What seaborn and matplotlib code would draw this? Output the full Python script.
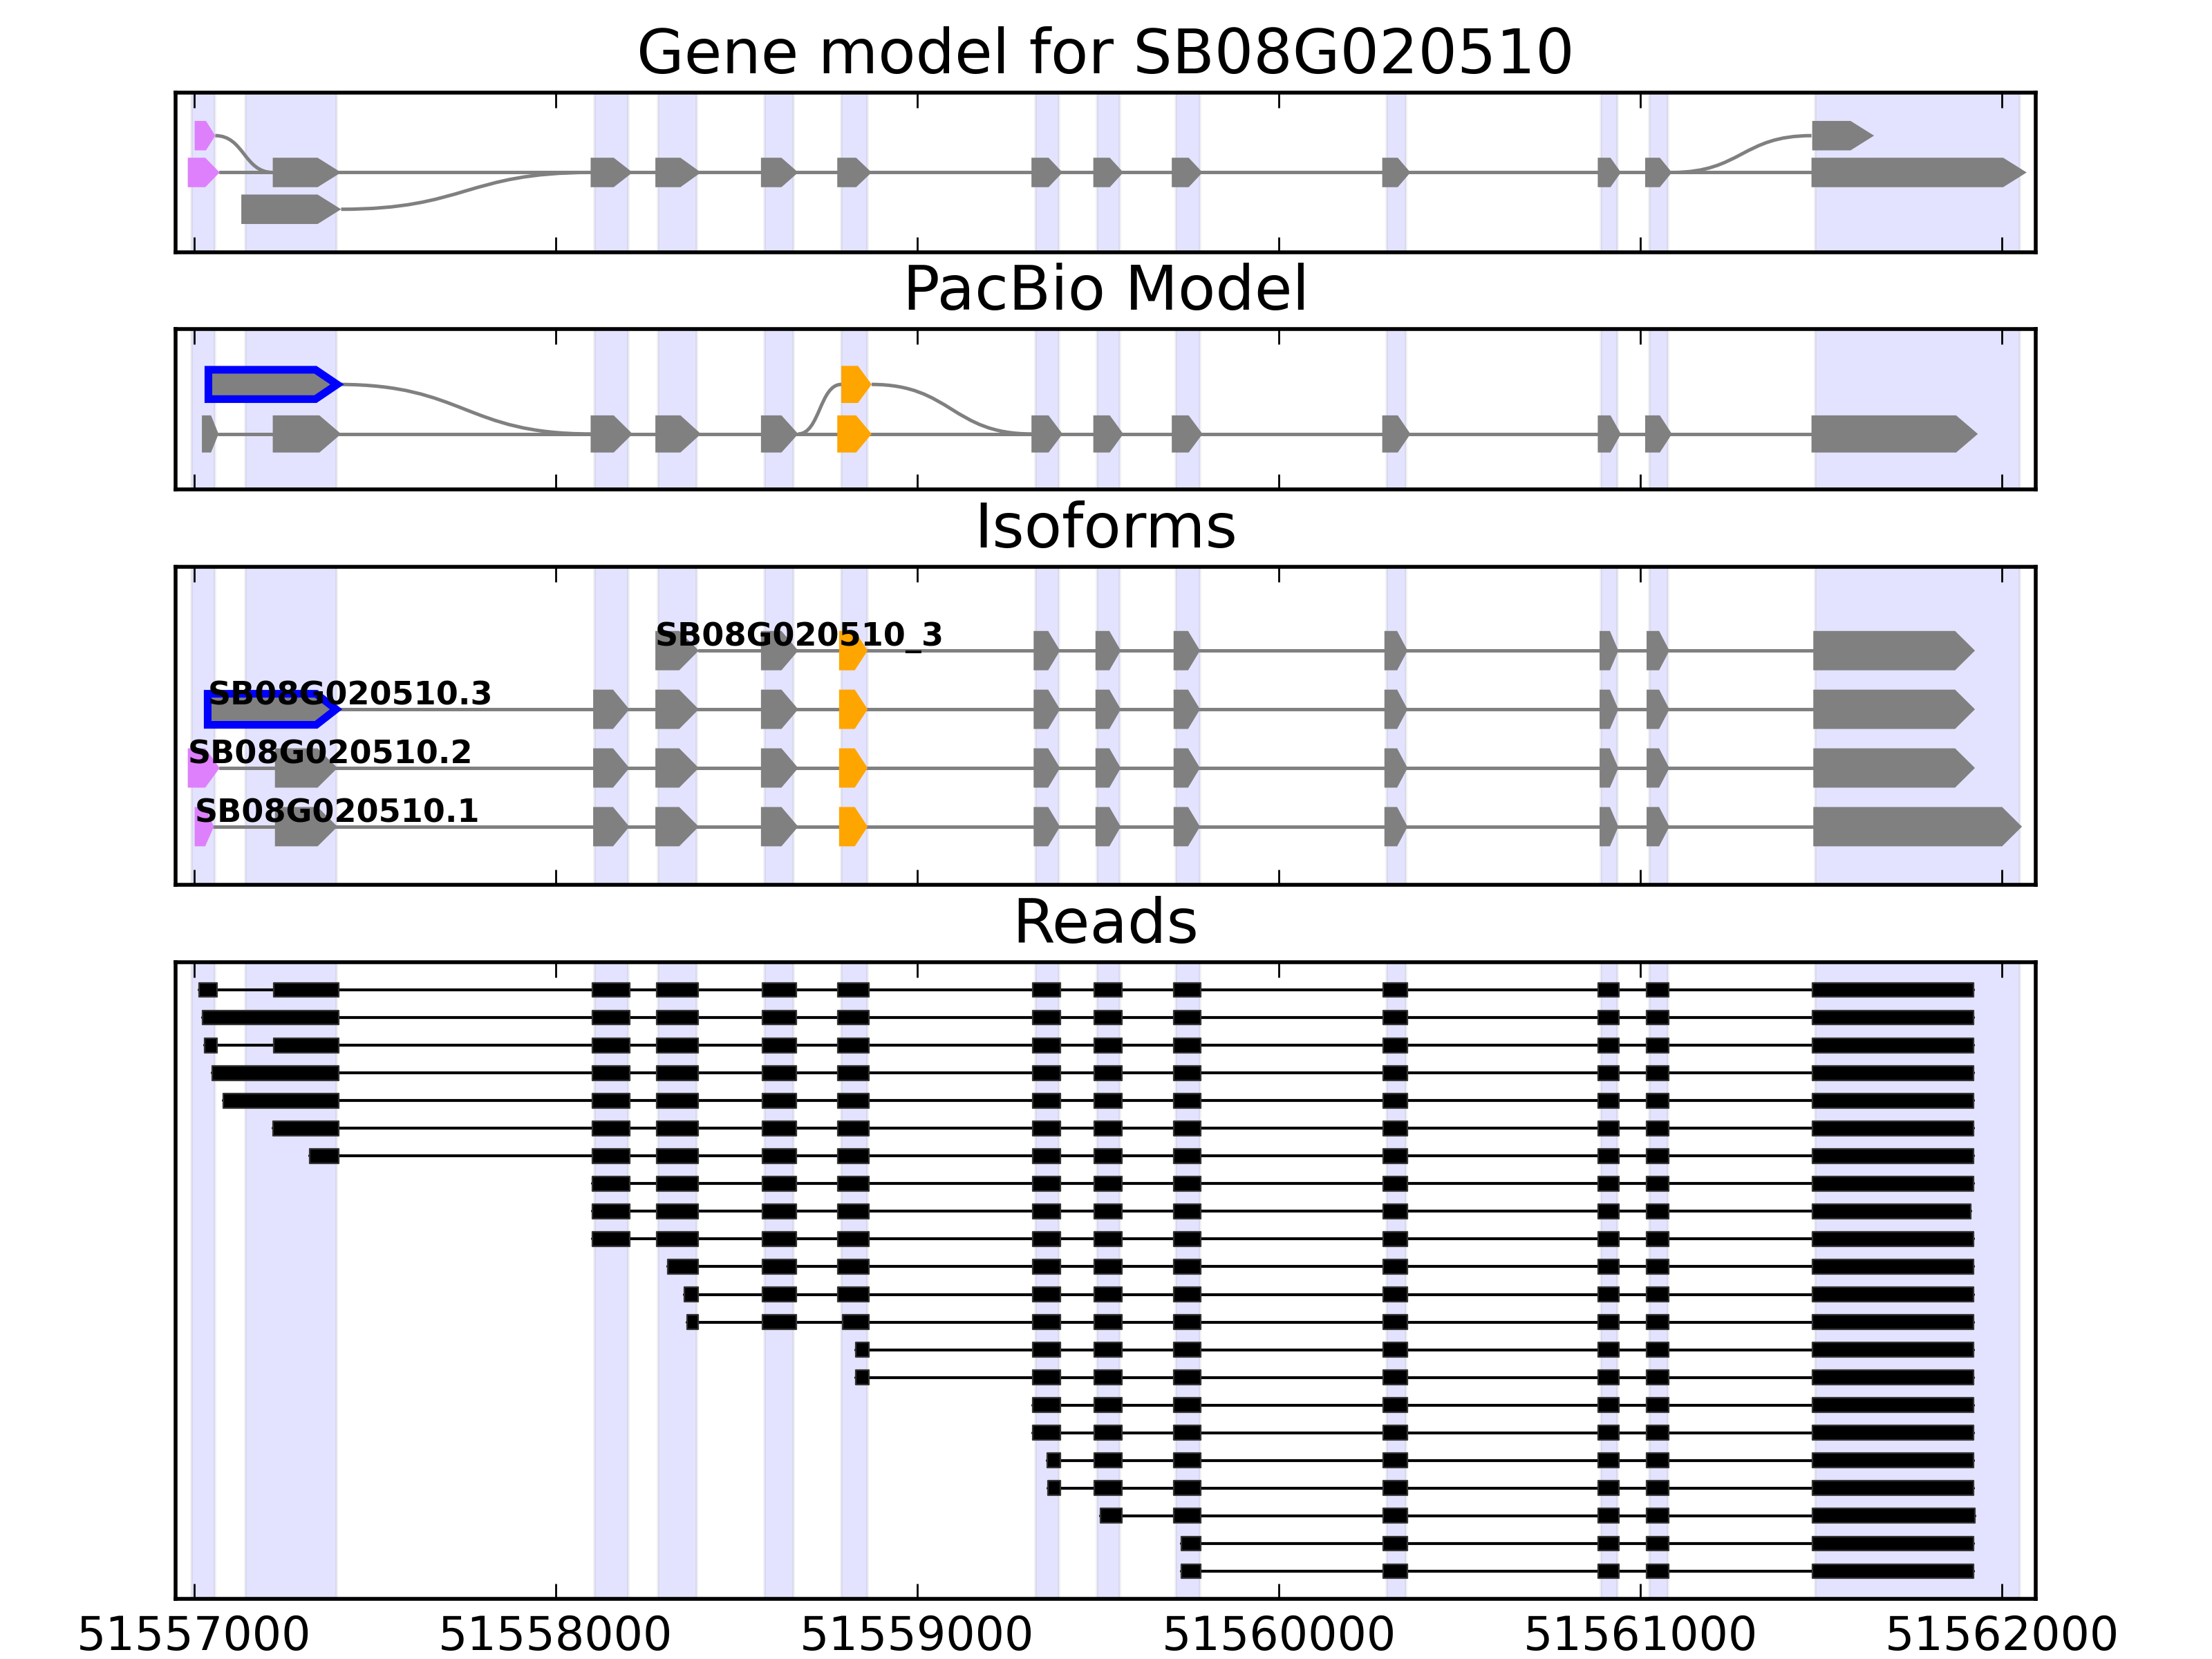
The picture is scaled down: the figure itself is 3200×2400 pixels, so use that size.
import matplotlib
matplotlib.use('Agg')
import matplotlib.pyplot as plt
from matplotlib.patches import Polygon, PathPatch
from matplotlib.path import Path
import pandas as pd
import seaborn as sns

# ---- data (genomic coordinates) ----
x_min, x_max = 51556950, 51562093
tick_pos = [51557000, 51558000, 51559000, 51560000, 51561000, 51562000]

band_start = [51556993, 51557142, 51558107, 51558284, 51558577, 51558790, 51559328,
              51559497, 51559716, 51560298, 51560891, 51561024, 51561483]
band_end = [51557058, 51557394, 51558201, 51558390, 51558658, 51558863, 51559392,
            51559560, 51559782, 51560352, 51560936, 51561077, 51562049]

# gene model (splice graph)
gm_start = [51557002, 51561475,
            51556983, 51557218, 51558097, 51558276, 51558568, 51558779, 51559316,
            51559487, 51559704, 51560286, 51560882, 51561013, 51561473,
            51557131]
gm_end = [51557059, 51561646,
          51557071, 51557407, 51558213, 51558402, 51558671, 51558874, 51559402,
          51559570, 51559789, 51560364, 51560946, 51561087, 51562068,
          51557407]
gm_row = [1, 1,
          0, 0, 0, 0, 0, 0, 0, 0, 0, 0, 0, 0, 0,
          -1]
gm_color = ['pink', 'gray',
            'pink', 'gray', 'gray', 'gray', 'gray', 'gray', 'gray', 'gray', 'gray',
            'gray', 'gray', 'gray', 'gray',
            'gray']
gm_lines = [(0, 51557071, 51561473)]
gm_curves = [(51557059, 1, 51557218, 0), (51557407, -1, 51558097, 0),
             (51561087, 0, 51561473, 1)]

# PacBio model
pb_start = [51557040, 51558790,
            51557022, 51557218, 51558097, 51558276, 51558568, 51558779, 51559316,
            51559487, 51559704, 51560286, 51560882, 51561013, 51561473]
pb_end = [51557396, 51558874,
          51557068, 51557407, 51558213, 51558402, 51558671, 51558874, 51559402,
          51559570, 51559789, 51560364, 51560946, 51561087, 51561933]
pb_row = [1, 1, 0, 0, 0, 0, 0, 0, 0, 0, 0, 0, 0, 0, 0]
pb_color = ['blue', 'orange', 'gray', 'gray', 'gray', 'gray', 'gray', 'orange',
            'gray', 'gray', 'gray', 'gray', 'gray', 'gray', 'gray']
pb_lines = [(0, 51557068, 51561473)]
pb_curves = [(51557400, 1, 51558097, 0), (51558671, 0, 51558790, 1),
             (51558874, 1, 51559316, 0)]

# isoforms
iso_names = ['SB08G020510.1', 'SB08G020510.2', 'SB08G020510.3', 'SB08G020510_3']
iso_core_start = [51558104, 51558276, 51558568, 51558784, 51559322, 51559493,
                  51559709, 51560292, 51560887, 51561017]
iso_core_end = [51558204, 51558396, 51558671, 51558863, 51559395, 51559563,
                51559782, 51560356, 51560939, 51561080]
iso_core_color = ['gray', 'gray', 'gray', 'orange', 'gray', 'gray', 'gray',
                  'gray', 'gray', 'gray']
iso_lead = [[(51557002, 51557055, 'pink'), (51557224, 51557397, 'gray')],
            [(51556983, 51557071, 'pink'), (51557224, 51557397, 'gray')],
            [(51557038, 51557393, 'blue')],
            []]
iso_core_from = [0, 0, 0, 1]
iso_last_start = 51561478
iso_last_end = [51562055, 51561925, 51561925, 51561925]

# reads
read_exon_start = [51558101, 51558279, 51558572, 51558781, 51559320, 51559489,
                   51559709, 51560289, 51560883, 51561016]
read_exon_end = [51558206, 51558395, 51558666, 51558867, 51559395, 51559566,
                 51559784, 51560356, 51560941, 51561079]
read_lead = [[(51557014, 51557064), (51557221, 51557401)],
             [(51557024, 51557401)],
             [(51557029, 51557064), (51557221, 51557401)],
             [(51557051, 51557401)],
             [(51557082, 51557401)],
             [(51557219, 51557401)],
             [(51557320, 51557401)],
             [], [], [],
             [(51558310, 51558395)],
             [(51558357, 51558395)],
             [(51558363, 51558395), (51558572, 51558666), (51558794, 51558867)],
             [(51558830, 51558867)],
             [(51558830, 51558867)],
             [], [],
             [(51559359, 51559395)],
             [(51559361, 51559395)],
             [(51559507, 51559566)],
             [(51559730, 51559784)],
             [(51559730, 51559784)]]
read_join = [0, 0, 0, 0, 0, 0, 0, 0, 0, 0, 2, 2, 4, 4, 4, 4, 4, 5, 5, 6, 7, 7]
read_last_start = 51561475
read_last_end = [51561921, 51561921, 51561921, 51561921, 51561921, 51561921,
                 51561921, 51561921, 51561914, 51561921, 51561921, 51561921,
                 51561921, 51561921, 51561921, 51561921, 51561921, 51561921,
                 51561921, 51561925, 51561921, 51561921]

palette = {'gray': '#808080', 'pink': '#de80fc', 'orange': '#ffa500', 'blue': '#808080'}

# ---- style ----
sns.set_theme(style='white', rc={
    'axes.edgecolor': 'black', 'axes.linewidth': 1.0,
    'xtick.direction': 'in', 'xtick.top': True, 'xtick.bottom': True,
    'xtick.major.size': 4, 'xtick.major.width': 0.5, 'xtick.major.pad': 4,
    'xtick.color': 'black', 'xtick.labelsize': 12,
    'axes.titlesize': 16, 'axes.titlepad': 5, 'text.color': 'black'})
plt.rcParams['font.family'] = ['DejaVu Sans']


def exon_shape(s, e, y, h, hmax):
    head = min(0.45 * (e - s), hmax)
    pts = [(s, y - h), (e - head, y - h), (e, y), (e - head, y + h), (s, y + h)]
    return pts


def add_exon(ax, s, e, y, h, hmax, color):
    if color == 'blue':
        hh = h * 0.79
        poly = Polygon(exon_shape(s, e, y, hh, hmax), closed=True, facecolor='#808080',
                       edgecolor='blue', lw=2, joinstyle='miter', zorder=3)
    else:
        poly = Polygon(exon_shape(s, e, y, h, hmax), closed=True,
                       facecolor=palette[color], edgecolor='none', zorder=2)
    ax.add_patch(poly)


def add_curve(ax, x0, y0, x1, y1):
    xm = (x0 + x1) / 2
    path = Path([(x0, y0), (xm, y0), (xm, y1), (x1, y1)],
                [Path.MOVETO, Path.CURVE4, Path.CURVE4, Path.CURVE4])
    ax.add_patch(PathPatch(path, fill=False, edgecolor='#808080', lw=0.9, zorder=1))


def setup(ax, title, bottom_labels=False):
    for a, b in zip(band_start, band_end):
        ax.axvspan(a, b, facecolor='blue', edgecolor='gray', alpha=0.11, lw=0.7, zorder=0)
    ax.set_xlim(x_min, x_max)
    ax.set_xticks(tick_pos)
    ax.set_xticklabels([str(t) for t in tick_pos])
    ax.set_yticks([])
    ax.tick_params(axis='x', labelbottom=bottom_labels, top=True, bottom=True)
    ax.set_title(title)
    ax.set_xlabel('')
    ax.set_ylabel('')


fig = plt.figure(figsize=(8, 6), dpi=400)
ax_gm = fig.add_axes([0.0795, 0.8479, 0.8408, 0.0963])
ax_pb = fig.add_axes([0.0795, 0.7050, 0.8408, 0.0967])
ax_iso = fig.add_axes([0.0795, 0.4667, 0.8408, 0.1917])
ax_rd = fig.add_axes([0.0795, 0.03625, 0.8408, 0.38375])

# gene model
for s, e, r, c in zip(gm_start, gm_end, gm_row, gm_color):
    add_exon(ax_gm, s, e, r, 0.40, 65, c)
for r, a, b in gm_lines:
    ax_gm.plot([a, b], [r, r], color='#808080', lw=0.9, zorder=1)
for x0, y0, x1, y1 in gm_curves:
    add_curve(ax_gm, x0, y0, x1, y1)
setup(ax_gm, 'Gene model for SB08G020510')
ax_gm.set_ylim(-2.17, 2.17)

# PacBio model
for s, e, r, c in zip(pb_start, pb_end, pb_row, pb_color):
    add_exon(ax_pb, s, e, r, 0.375, 60, c)
for r, a, b in pb_lines:
    ax_pb.plot([a, b], [r, r], color='#808080', lw=0.9, zorder=1)
for x0, y0, x1, y1 in pb_curves:
    add_curve(ax_pb, x0, y0, x1, y1)
setup(ax_pb, 'PacBio Model')
ax_pb.set_ylim(-1.12, 2.12)

# isoforms
for i, name in enumerate(iso_names):
    blocks = list(iso_lead[i])
    for k in range(iso_core_from[i], len(iso_core_start)):
        blocks.append((iso_core_start[k], iso_core_end[k], iso_core_color[k]))
    blocks.append((iso_last_start, iso_last_end[i], 'gray'))
    ax_iso.plot([blocks[0][1], iso_last_start], [i, i], color='#808080', lw=0.9, zorder=1)
    for s, e, c in blocks:
        add_exon(ax_iso, s, e, i, 0.335, 55, c)
    ax_iso.text(blocks[0][0], i + 0.08, name, fontsize=8.3, fontweight='bold',
                ha='left', va='baseline', zorder=5)
setup(ax_iso, 'Isoforms')
ax_iso.set_ylim(-0.99, 4.43)

# reads
span_rows = []
for i in range(len(read_lead)):
    first = read_lead[i][0][0] if read_lead[i] else read_exon_start[read_join[i]]
    span_rows.append({'x': first, 'y': i + 1, 'read': i})
    span_rows.append({'x': read_last_end[i], 'y': i + 1, 'read': i})
spans = pd.DataFrame(span_rows)
sns.lineplot(data=spans, x='x', y='y', units='read', estimator=None, sort=False,
             color='black', linewidth=0.75, ax=ax_rd, zorder=1)
for i in range(len(read_lead)):
    blocks = list(read_lead[i])
    for k in range(read_join[i], len(read_exon_start)):
        blocks.append((read_exon_start[k], read_exon_end[k]))
    blocks.append((read_last_start, read_last_end[i]))
    ax_rd.broken_barh([(s, e - s) for s, e in blocks], (i + 1 - 0.26, 0.52),
                      facecolors='black', edgecolors='#333333', linewidth=0.4, zorder=2)
setup(ax_rd, 'Reads', bottom_labels=True)
ax_rd.set_ylim(len(read_lead) + 1, 0)

fig.savefig('out.png', dpi=400)
